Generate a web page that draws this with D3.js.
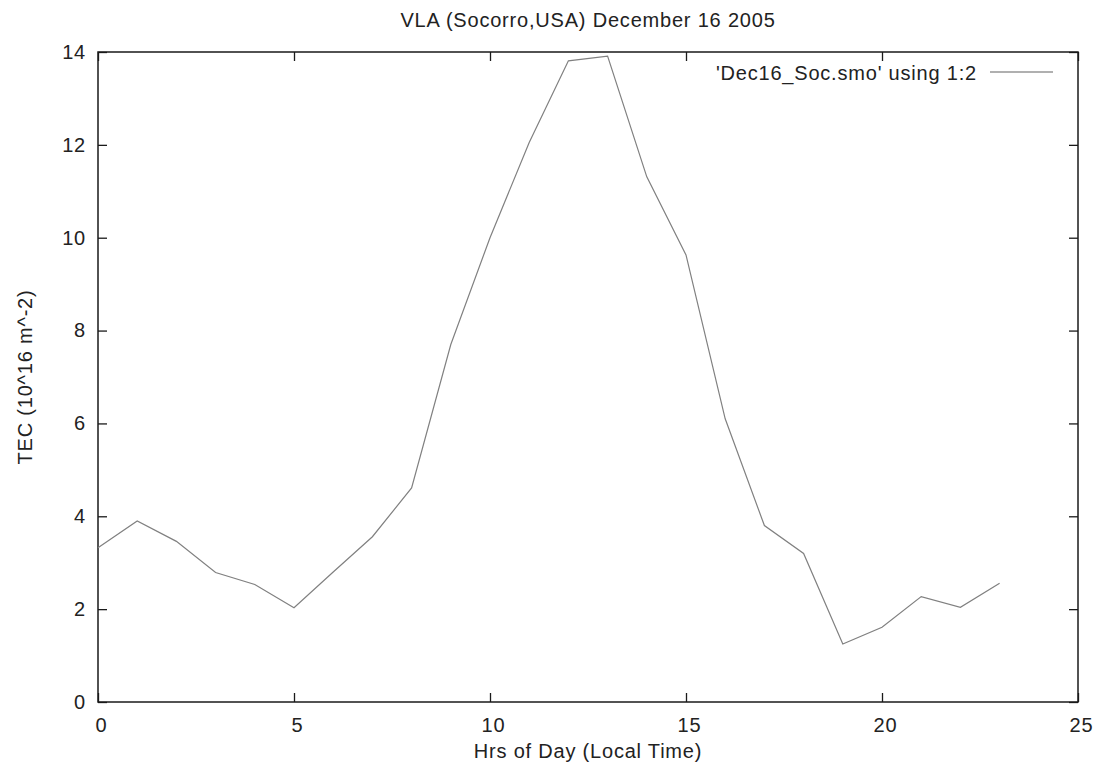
<!DOCTYPE html>
<html>
<head>
<meta charset="utf-8">
<script src="https://cdn.jsdelivr.net/npm/d3@7"></script>
<style>
    body { margin: 0; background: #fff; }
    text { font-family: "Liberation Sans", Arial, sans-serif; font-size: 20px; letter-spacing: 0.8px; fill: #222; }
</style>
</head>
<body>
<svg id="chart" width="1101" height="774"></svg>
<script>
    "use strict";

    const hours = [0, 1, 2, 3, 4, 5, 6, 7, 8, 9, 10, 11, 12, 13, 14, 15, 16, 17, 18, 19, 20, 21, 22, 23];
    const tec = [3.32, 3.9, 3.46, 2.79, 2.53, 2.03, 2.8, 3.56, 4.61, 7.7, 10.0, 12.05, 13.81, 13.91,
                 11.31, 9.63, 6.1, 3.8, 3.2, 1.25, 1.61, 2.27, 2.04, 2.56];
    const xTicks = [0, 5, 10, 15, 20, 25];
    const yTicks = [0, 2, 4, 6, 8, 10, 12, 14];

    const margin = { top: 52, right: 23, bottom: 72, left: 98 };
    const svg = d3.select("#chart");
    const width = +svg.attr("width") - margin.left - margin.right,
        height = +svg.attr("height") - margin.top - margin.bottom;

    const x = d3.scaleLinear().domain([0, 25]).range([0, width]);
    const y = d3.scaleLinear().domain([0, 14]).range([height, 0]);

    const g = svg.append("g").attr("transform", `translate(${margin.left},${margin.top})`);

    // ticks on all four sides, pointing inwards like gnuplot
    const tickStyle = (sel) => {
        sel.select(".domain").remove();
        sel.selectAll(".tick line").attr("stroke", "#1a1a1a").attr("stroke-width", 1.3);
        sel.selectAll(".tick text").style("font-size", "20px").attr("fill", "#222");
    };
    g.append("g").attr("transform", `translate(0,${height})`)
        .call(d3.axisBottom(x).tickValues(xTicks).tickSizeInner(-9).tickSizeOuter(0).tickPadding(16))
        .call(tickStyle)
        .selectAll(".tick text").attr("dx", 3);
    g.append("g")
        .call(d3.axisTop(x).tickValues(xTicks).tickSizeInner(-9).tickSizeOuter(0).tickFormat(""))
        .call(tickStyle);
    g.append("g")
        .call(d3.axisLeft(y).tickValues(yTicks).tickSizeInner(-9).tickSizeOuter(0).tickPadding(12))
        .call(tickStyle);
    g.append("g").attr("transform", `translate(${width},0)`)
        .call(d3.axisRight(y).tickValues(yTicks).tickSizeInner(-9).tickSizeOuter(0).tickFormat(""))
        .call(tickStyle);

    g.append("rect")
        .attr("width", width).attr("height", height)
        .attr("fill", "none").attr("stroke", "#1a1a1a").attr("stroke-width", 1.5);

    const line = d3.line().x((d, i) => x(hours[i])).y(d => y(d));
    g.append("path")
        .datum(tec)
        .attr("d", line)
        .attr("fill", "none")
        .attr("stroke", "#808080")
        .attr("stroke-width", 1.2);

    // legend
    const legend = g.append("g").attr("transform", `translate(${width},0)`);
    legend.append("text")
        .attr("x", -101).attr("y", 28)
        .attr("text-anchor", "end")
        .text("'Dec16_Soc.smo' using 1:2");
    legend.append("line")
        .attr("x1", -88).attr("x2", -25).attr("y1", 20).attr("y2", 20)
        .attr("stroke", "#b0b0b0").attr("stroke-width", 2);

    svg.append("text")
        .attr("x", margin.left + width / 2).attr("y", 27)
        .attr("text-anchor", "middle")
        .text("VLA (Socorro,USA) December 16 2005");

    svg.append("text")
        .attr("x", margin.left + width / 2).attr("y", 758)
        .attr("text-anchor", "middle")
        .text("Hrs of Day (Local Time)");

    svg.append("text")
        .attr("transform", `translate(32,${margin.top + height / 2}) rotate(-90)`)
        .attr("text-anchor", "middle")
        .text("TEC (10^16 m^-2)");
</script>
</body>
</html>
